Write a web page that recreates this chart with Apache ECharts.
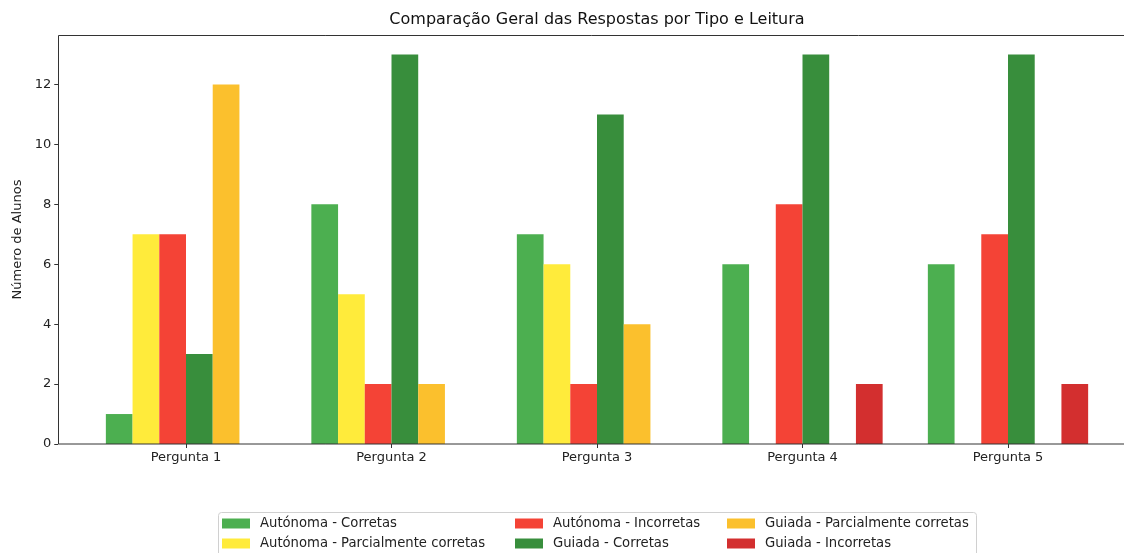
<!DOCTYPE html>
<html>
<head>
<meta charset="utf-8">
<script src="https://cdn.jsdelivr.net/npm/echarts@6/dist/echarts.min.js"></script>
<style>html,body{margin:0;padding:0;background:#fff}#c{width:1124px;height:553px}</style>
</head>
<body>
<div id="c"></div>
<script>
const categories = ['Pergunta 1','Pergunta 2','Pergunta 3','Pergunta 4','Pergunta 5'];
const seriesNames = ['Autónoma - Corretas','Autónoma - Parcialmente corretas','Autónoma - Incorretas','Guiada - Corretas','Guiada - Parcialmente corretas','Guiada - Incorretas'];
const autCorretas = [1, 8, 7, 6, 6];
const autParciais = [7, 5, 6, 0, 0];
const autIncorretas = [7, 2, 2, 8, 7];
const guiCorretas = [3, 13, 11, 13, 13];
const guiParciais = [12, 2, 4, 0, 0];
const guiIncorretas = [0, 0, 0, 2, 2];
const colors = ['#4caf50','#ffeb3b','#f44336','#388e3c','#fbc02d','#d32f2f'];
const yTicks = [0, 2, 4, 6, 8, 10, 12];

const values = [autCorretas, autParciais, autIncorretas, guiCorretas, guiParciais, guiIncorretas];
const font = 'DejaVu Sans';
const chart = echarts.init(document.getElementById('c'));
const legendCommon = {
  orient: 'vertical', top: 516, height: 37, padding: 0, itemWidth: 28, itemHeight: 10, itemGap: 5,
  icon: 'rect', selectedMode: false,
  textStyle: {fontFamily: font, fontSize: 13.2, color: '#222', padding: [0,0,0,5], lineHeight: 15}
};
chart.setOption({
  animation: false,
  textStyle: {fontFamily: font},
  grid: {left: 83.25, right: 13.25, top: 35, bottom: 109, containLabel: false},
  xAxis: {
    type: 'category', data: categories,
    axisLine: {show: false},
    axisTick: {show: true, alignWithLabel: true, length: 4, lineStyle: {color: '#333'}},
    axisLabel: {fontFamily: font, fontSize: 13, color: '#222', margin: 7}
  },
  yAxis: {
    type: 'value', min: 0, max: 13.65, interval: 2, offset: 25,
    name: 'Número de Alunos', nameLocation: 'middle', nameGap: 34,
    nameTextStyle: {fontFamily: font, fontSize: 13, color: '#222'},
    axisLine: {show: false},
    axisTick: {show: true, length: 4, lineStyle: {color: '#333'}},
    axisLabel: {fontFamily: font, fontSize: 13, color: '#222', margin: 7, showMaxLabel: false,
      formatter: v => yTicks.includes(v) ? String(v) : ''},
    splitLine: {show: false}
  },
  legend: [
    Object.assign({left: 222, data: [seriesNames[0], seriesNames[1]]}, legendCommon),
    Object.assign({left: 515, data: [seriesNames[2], seriesNames[3]]}, legendCommon),
    Object.assign({left: 727, data: [seriesNames[4], seriesNames[5]]}, legendCommon)
  ],
  series: seriesNames.map((n, i) => ({
    name: n, type: 'bar', data: values[i],
    barGap: '0%', barCategoryGap: '22%',
    itemStyle: {color: colors[i]}
  })),
  graphic: [
    {type: 'rect', shape: {x: 58.5, y: 35.5, width: 1100, height: 408.5}, style: {fill: null, stroke: '#333', lineWidth: 1}, z: 100, silent: true},
    {type: 'rect', shape: {x: 218.5, y: 512.5, width: 758, height: 50, r: 3}, style: {fill: null, stroke: '#d0d0d0', lineWidth: 1}, z: 100, silent: true},
    {type: 'text', x: 597, y: 20, style: {text: 'Comparação Geral das Respostas por Tipo e Leitura', font: '16px "DejaVu Sans"', fill: '#111', textAlign: 'center', textVerticalAlign: 'middle'}, silent: true}
  ]
});
</script>
</body>
</html>
